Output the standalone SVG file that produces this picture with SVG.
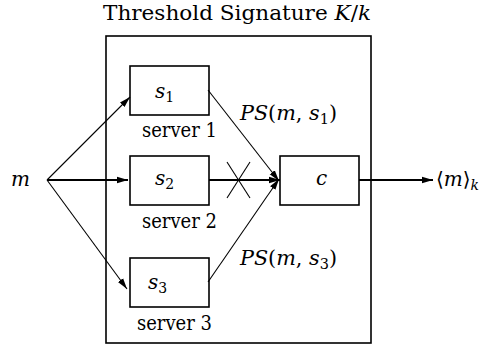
<svg xmlns="http://www.w3.org/2000/svg" width="484" height="345" viewBox="0 0 484 345">
<style>
  .box { fill: none; stroke: #000; stroke-width: 1.6; }
  .t { font-family: 'DejaVu Serif', 'Liberation Serif', serif; font-size: 20px; fill: #000; }
  .i { font-style: italic; }
  .sub { font-size: 14px; }
  .thin { stroke: #000; stroke-width: 1.1; fill: none; }
  .thick { stroke: #000; stroke-width: 2.2; fill: none; }
</style>
<defs>
  <marker id="ah" markerUnits="userSpaceOnUse" markerWidth="12" markerHeight="8" refX="11" refY="4" orient="auto">
    <path d="M0,0.8 L11,4 L0,7.2 Z" fill="#000"/>
  </marker>
</defs>
<rect width="484" height="345" fill="#fff"/>

<g id="title">
  <text class="t" x="103" y="20" textLength="268" lengthAdjust="spacingAndGlyphs">Threshold Signature <tspan class="i">K</tspan>/<tspan class="i">k</tspan></text>
</g>

<g id="threshold-box">
  <rect class="box" x="106" y="36" width="265" height="307"/>
</g>

<g id="m">
  <text class="t i" x="11" y="186">m</text>
</g>

<g id="s1">
  <rect class="box" x="130" y="66" width="79" height="49"/>
  <text class="t i" x="155" y="98">s<tspan class="sub" font-style="normal" dy="4">1</tspan></text>
  <text class="t" x="142" y="137" textLength="75" lengthAdjust="spacingAndGlyphs">server 1</text>
</g>

<g id="s2">
  <rect class="box" x="130" y="156" width="79" height="49"/>
  <text class="t i" x="155" y="185">s<tspan class="sub" font-style="normal" dy="4">2</tspan></text>
  <text class="t" x="142" y="228" textLength="75" lengthAdjust="spacingAndGlyphs">server 2</text>
</g>

<g id="s3">
  <rect class="box" x="130" y="258" width="79" height="49"/>
  <text class="t i" x="148" y="289">s<tspan class="sub" font-style="normal" dy="4">3</tspan></text>
  <text class="t" x="137" y="330" textLength="75" lengthAdjust="spacingAndGlyphs">server 3</text>
</g>

<g id="c">
  <rect class="box" x="280" y="156" width="79" height="49"/>
  <text class="t i" x="316" y="185">c</text>
</g>

<g id="output">
  <text class="t" x="436" y="186">⟨<tspan class="i">m</tspan>⟩<tspan class="sub i" dy="4">k</tspan></text>
</g>

<g id="labels">
  <text class="t" x="240" y="120" textLength="97" lengthAdjust="spacingAndGlyphs"><tspan class="i">PS</tspan>(<tspan class="i">m</tspan>, <tspan class="i">s</tspan><tspan class="sub" dy="4">1</tspan><tspan dy="-4">)</tspan></text>
  <text class="t" x="240" y="265" textLength="97" lengthAdjust="spacingAndGlyphs"><tspan class="i">PS</tspan>(<tspan class="i">m</tspan>, <tspan class="i">s</tspan><tspan class="sub" dy="4">3</tspan><tspan dy="-4">)</tspan></text>
</g>

<g id="connectors">
  <line class="thin" x1="47" y1="180" x2="130" y2="97" marker-end="url(#ah)"/>
  <line class="thick" x1="47" y1="180" x2="128" y2="180" marker-end="url(#ah)"/>
  <line class="thin" x1="47" y1="180" x2="127" y2="289" marker-end="url(#ah)"/>
  <line class="thin" x1="208" y1="90" x2="279" y2="181" marker-end="url(#ah)"/>
  <line class="thick" x1="209" y1="180" x2="280" y2="180" marker-end="url(#ah)"/>
  <line class="thin" x1="208" y1="282" x2="279" y2="179" marker-end="url(#ah)"/>
  <line class="thick" x1="359" y1="180" x2="433" y2="180" marker-end="url(#ah)"/>
  <line class="thin" x1="227" y1="162" x2="250" y2="198"/>
  <line class="thin" x1="250" y1="162" x2="227" y2="198"/>
</g>
</svg>
